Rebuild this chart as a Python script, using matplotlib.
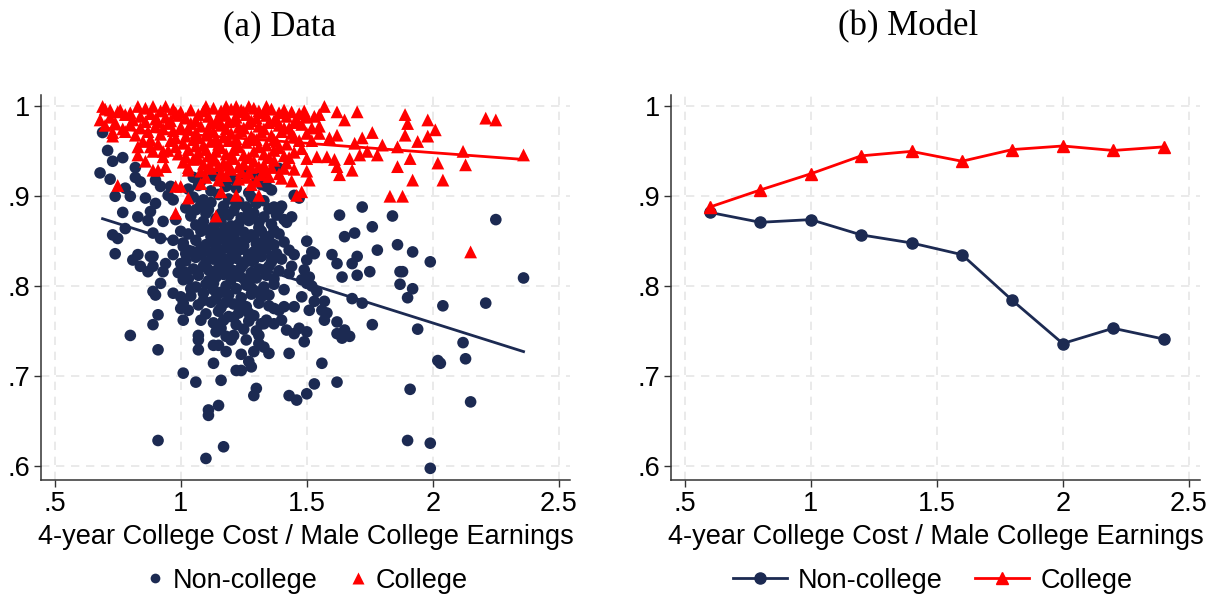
import numpy as np
import matplotlib
matplotlib.use("Agg")
import matplotlib.pyplot as plt
from matplotlib.lines import Line2D

NAVY = "#1c2a52"
RED = "#ff0000"
GRID = "#e6e6e6"

# --- panel (a): scattered data, (x, y) ---
noncollege_pts = [
    (0.69, 0.971), (0.71, 0.951), (0.68, 0.926), (0.73, 0.939), (0.77, 0.943), (0.72, 0.919),
    (0.74, 0.900), (0.78, 0.909), (0.82, 0.932), (0.82, 0.921), (0.80, 0.900), (0.77, 0.882),
    (0.78, 0.864), (0.73, 0.857), (0.75, 0.853), (0.74, 0.836), (0.83, 0.877), (0.84, 0.916),
    (0.86, 0.898), (0.88, 0.883), (0.87, 0.873), (0.90, 0.918), (0.90, 0.892), (0.92, 0.911),
    (0.93, 0.872), (0.89, 0.859), (0.92, 0.853), (0.81, 0.829), (0.83, 0.835), (0.84, 0.822),
    (0.87, 0.816), (0.89, 0.833), (0.89, 0.822), (0.88, 0.833), (0.94, 0.825), (0.93, 0.816),
    (0.97, 0.835), (0.92, 0.803), (0.89, 0.794), (0.90, 0.790), (0.97, 0.792), (0.91, 0.768),
    (0.89, 0.757), (0.80, 0.745), (0.91, 0.729), (0.91, 0.628), (0.95, 0.901), (0.96, 0.911),
    (0.97, 0.896), (0.98, 0.874), (1.00, 0.861), (0.97, 0.851), (1.01, 0.844), (1.02, 0.836),
    (1.01, 0.807), (1.00, 0.788), (1.01, 0.781), (1.00, 0.775), (1.03, 0.773), (1.01, 0.762),
    (1.01, 0.703), (1.06, 0.693), (1.08, 0.762), (1.07, 0.745), (1.07, 0.740), (1.07, 0.729),
    (1.10, 0.608), (1.11, 0.656), (1.11, 0.662), (1.15, 0.667), (1.13, 0.714), (1.16, 0.695),
    (1.17, 0.621), (1.13, 0.734), (1.15, 0.734), (1.18, 0.727), (1.14, 0.749), (1.18, 0.744),
    (1.21, 0.745), (1.22, 0.706), (1.24, 0.706), (1.24, 0.724), (1.27, 0.716), (1.28, 0.710),
    (1.29, 0.678), (1.30, 0.686), (1.31, 0.745), (1.31, 0.736), (1.33, 0.732), (1.35, 0.725),
    (1.32, 0.758), (1.34, 0.762), (1.37, 0.758), (1.40, 0.762), (1.42, 0.751), (1.43, 0.725),
    (1.43, 0.678), (1.46, 0.673), (1.50, 0.680), (1.53, 0.691), (1.56, 0.714), (1.62, 0.693),
    (1.45, 0.747), (1.47, 0.753), (1.49, 0.738), (1.50, 0.749), (1.45, 0.777), (1.48, 0.788),
    (1.51, 0.773), (1.53, 0.783), (1.54, 0.794), (1.56, 0.773), (1.57, 0.783), (1.58, 0.770),
    (1.57, 0.762), (1.62, 0.760), (1.62, 0.747), (1.64, 0.742), (1.65, 0.751), (1.67, 0.744),
    (1.68, 0.786), (1.72, 0.781), (1.76, 0.757), (1.75, 0.816), (1.70, 0.812), (1.68, 0.825),
    (1.70, 0.833), (1.62, 0.825), (1.60, 0.835), (1.64, 0.810), (1.65, 0.855), (1.69, 0.859),
    (1.63, 0.879), (1.72, 0.888), (1.76, 0.866), (1.78, 0.840), (1.84, 0.878), (1.86, 0.846),
    (1.87, 0.816), (1.88, 0.816), (1.87, 0.802), (1.92, 0.838), (1.92, 0.797), (1.90, 0.787),
    (1.94, 0.752), (1.99, 0.827), (2.04, 0.778), (2.02, 0.717), (2.03, 0.714), (2.12, 0.737),
    (2.13, 0.719), (2.15, 0.671), (2.21, 0.781), (2.25, 0.874), (2.36, 0.809), (1.91, 0.685),
    (1.90, 0.628), (1.99, 0.625), (1.99, 0.597), (1.50, 0.850), (1.52, 0.838), (1.53, 0.836),
    (1.50, 0.829), (1.49, 0.818), (1.51, 0.810), (1.50, 0.803), (1.52, 0.800), (1.48, 0.807),
    (1.45, 0.901), (1.47, 0.898), (1.44, 0.877), (1.41, 0.874), (1.39, 0.885), (1.37, 0.888),
    (1.39, 0.931), (1.34, 0.911), (1.34, 0.918), (1.45, 0.835), (1.44, 0.822), (1.43, 0.814),
    (1.41, 0.796), (1.41, 0.777), (1.39, 0.773), (1.37, 0.775),
    # dense core
    (1.05, 0.921), (1.08, 0.917), (1.13, 0.923), (1.17, 0.915), (1.21, 0.919), (1.25, 0.925),
    (1.30, 0.921), (1.03, 0.908), (1.07, 0.912), (1.12, 0.906), (1.18, 0.911), (1.22, 0.909),
    (1.27, 0.904), (1.32, 0.913), (1.36, 0.907), (1.05, 0.899), (1.09, 0.896), (1.15, 0.902),
    (1.19, 0.897), (1.23, 0.894), (1.28, 0.899), (1.33, 0.895), (1.02, 0.887), (1.08, 0.891),
    (1.11, 0.885), (1.17, 0.889), (1.21, 0.884), (1.26, 0.888), (1.30, 0.892), (1.35, 0.886),
    (1.40, 0.889), (1.04, 0.878), (1.10, 0.881), (1.14, 0.875), (1.19, 0.879), (1.24, 0.876),
    (1.29, 0.881), (1.33, 0.877), (1.38, 0.879), (1.06, 0.868), (1.09, 0.872), (1.13, 0.866),
    (1.16, 0.871), (1.20, 0.867), (1.23, 0.869), (1.27, 0.873), (1.31, 0.865), (1.36, 0.869),
    (1.42, 0.871), (1.03, 0.858), (1.08, 0.861), (1.12, 0.855), (1.15, 0.859), (1.18, 0.862),
    (1.21, 0.856), (1.25, 0.860), (1.28, 0.857), (1.32, 0.861), (1.35, 0.855), (1.39, 0.858),
    (1.01, 0.848), (1.06, 0.851), (1.10, 0.846), (1.14, 0.849), (1.17, 0.852), (1.20, 0.845),
    (1.23, 0.849), (1.26, 0.853), (1.30, 0.847), (1.33, 0.850), (1.37, 0.846), (1.41, 0.849),
    (1.04, 0.838), (1.08, 0.842), (1.12, 0.836), (1.15, 0.840), (1.18, 0.843), (1.21, 0.837),
    (1.24, 0.841), (1.27, 0.835), (1.31, 0.839), (1.34, 0.842), (1.38, 0.836), (1.43, 0.840),
    (1.02, 0.828), (1.06, 0.832), (1.10, 0.826), (1.13, 0.830), (1.16, 0.833), (1.19, 0.827),
    (1.22, 0.831), (1.25, 0.825), (1.29, 0.829), (1.32, 0.833), (1.36, 0.827), (1.40, 0.830),
    (1.05, 0.819), (1.09, 0.822), (1.12, 0.816), (1.15, 0.820), (1.18, 0.823), (1.21, 0.817),
    (1.24, 0.821), (1.28, 0.815), (1.31, 0.819), (1.35, 0.822), (1.39, 0.817), (1.03, 0.808),
    (1.07, 0.812), (1.11, 0.806), (1.14, 0.810), (1.17, 0.813), (1.20, 0.807), (1.23, 0.811),
    (1.27, 0.805), (1.30, 0.809), (1.34, 0.812), (1.06, 0.799), (1.10, 0.802), (1.13, 0.796),
    (1.18, 0.800), (1.22, 0.797), (1.26, 0.801), (1.29, 0.795), (1.33, 0.799), (1.37, 0.802),
    (1.04, 0.789), (1.09, 0.792), (1.14, 0.786), (1.19, 0.790), (1.24, 0.787), (1.28, 0.791),
    (1.32, 0.788), (1.07, 0.779), (1.12, 0.782), (1.16, 0.776), (1.21, 0.780), (1.26, 0.777),
    (1.31, 0.781), (1.35, 0.778), (1.10, 0.769), (1.15, 0.772), (1.19, 0.766), (1.23, 0.770),
    (1.29, 0.767), (1.13, 0.759), (1.17, 0.762), (1.22, 0.757), (1.27, 0.761), (1.33, 0.758),
    (1.06, 0.885), (1.12, 0.893), (1.16, 0.881), (1.22, 0.890), (1.27, 0.882), (1.31, 0.871),
    (1.37, 0.862), (1.10, 0.863), (1.14, 0.843), (1.19, 0.853), (1.22, 0.862), (1.25, 0.845),
    (1.29, 0.855), (1.33, 0.845), (1.36, 0.833), (1.08, 0.835), (1.11, 0.818), (1.16, 0.826),
    (1.20, 0.833), (1.23, 0.815), (1.26, 0.828), (1.29, 0.838), (1.33, 0.818), (1.37, 0.808),
    (1.13, 0.803), (1.16, 0.793), (1.20, 0.815), (1.25, 0.808), (1.28, 0.798), (1.31, 0.793),
    (1.35, 0.790), (1.09, 0.784), (1.18, 0.782), (1.23, 0.778), (1.27, 0.770), (1.16, 0.753),
    (1.21, 0.765), (1.25, 0.752), (1.30, 0.750), (1.20, 0.740), (1.26, 0.740), (1.29, 0.727),
    (1.02, 0.815), (1.00, 0.825), (0.99, 0.815), (1.04, 0.797),
]

college_pts = [
    (0.68, 0.985), (0.69, 1.000), (0.72, 0.996), (0.75, 0.994), (0.73, 0.967), (0.75, 0.912),
    (0.78, 0.972), (0.83, 1.000), (0.81, 0.985), (0.83, 0.955), (0.83, 0.946), (0.86, 0.939),
    (0.88, 0.963), (0.89, 1.000), (0.94, 1.000), (0.89, 0.950), (0.89, 0.929), (0.91, 0.929),
    (0.94, 0.933), (0.93, 0.950), (0.91, 0.983), (0.98, 0.993), (0.98, 0.911), (1.00, 0.911),
    (0.98, 0.881), (1.03, 0.929), (1.03, 0.898), (1.08, 0.914), (1.10, 1.000), (1.14, 0.878),
    (1.16, 0.905), (1.22, 0.901), (1.18, 1.000), (1.22, 1.000), (1.27, 1.000), (1.34, 1.000),
    (1.28, 0.913), (1.31, 0.901), (1.40, 0.920), (1.46, 0.901), (1.48, 0.905), (1.51, 0.918),
    (1.50, 0.928), (1.57, 1.000), (1.62, 0.994), (1.65, 0.985), (1.70, 0.994), (1.53, 0.989),
    (1.55, 0.991), (1.52, 0.976), (1.55, 0.970), (1.59, 0.965), (1.62, 0.968), (1.62, 0.933),
    (1.63, 0.924), (1.61, 0.941), (1.58, 0.944), (1.54, 0.944), (1.50, 0.942), (1.72, 0.965),
    (1.69, 0.959), (1.67, 0.942), (1.68, 0.929), (1.71, 0.946), (1.76, 0.971), (1.74, 0.950),
    (1.78, 0.946), (1.83, 0.900), (1.88, 0.900), (1.86, 0.933), (1.86, 0.955), (1.89, 0.991),
    (1.90, 0.981), (1.89, 0.968), (1.94, 0.961), (1.91, 0.942), (1.92, 0.918), (1.98, 0.985),
    (1.98, 0.967), (2.01, 0.974), (2.02, 0.937), (2.04, 0.918), (2.12, 0.950), (2.13, 0.935),
    (2.15, 0.838), (2.21, 0.987), (2.25, 0.985), (2.36, 0.946), (1.80, 0.957),
    # dense band
    (0.70, 0.997), (0.76, 0.996), (0.86, 0.998), (0.92, 0.995), (0.97, 0.997), (1.04, 0.996),
    (1.13, 0.998), (1.16, 0.995), (1.20, 0.997), (1.24, 0.996), (1.29, 0.998), (1.31, 0.995),
    (1.36, 0.997), (1.39, 0.993), (1.44, 0.994), (1.47, 0.992), (0.72, 0.988), (0.78, 0.991),
    (0.84, 0.989), (0.88, 0.992), (0.94, 0.988), (0.99, 0.990), (1.02, 0.987), (1.07, 0.991),
    (1.11, 0.989), (1.15, 0.986), (1.18, 0.990), (1.22, 0.988), (1.26, 0.991), (1.30, 0.987),
    (1.34, 0.990), (1.38, 0.986), (1.42, 0.989), (1.46, 0.985), (1.50, 0.988), (0.70, 0.979),
    (0.74, 0.982), (0.80, 0.980), (0.86, 0.983), (0.90, 0.978), (0.95, 0.981), (1.00, 0.977),
    (1.04, 0.981), (1.08, 0.978), (1.12, 0.982), (1.16, 0.979), (1.19, 0.983), (1.23, 0.977),
    (1.27, 0.981), (1.31, 0.978), (1.35, 0.982), (1.39, 0.979), (1.43, 0.976), (1.48, 0.980),
    (1.55, 0.978), (0.73, 0.971), (0.82, 0.968), (0.87, 0.972), (0.92, 0.969), (0.97, 0.973),
    (1.02, 0.967), (1.06, 0.971), (1.10, 0.968), (1.13, 0.972), (1.17, 0.966), (1.20, 0.970),
    (1.24, 0.973), (1.28, 0.967), (1.32, 0.971), (1.36, 0.968), (1.40, 0.972), (1.45, 0.966),
    (1.50, 0.970), (0.85, 0.961), (0.91, 0.958), (0.96, 0.962), (1.01, 0.959), (1.05, 0.963),
    (1.09, 0.957), (1.12, 0.961), (1.15, 0.958), (1.19, 0.962), (1.22, 0.956), (1.26, 0.960),
    (1.30, 0.963), (1.34, 0.957), (1.38, 0.961), (1.42, 0.958), (1.47, 0.962), (0.95, 0.951),
    (0.99, 0.947), (1.03, 0.952), (1.07, 0.949), (1.11, 0.945), (1.14, 0.950), (1.18, 0.947),
    (1.21, 0.952), (1.25, 0.946), (1.29, 0.950), (1.33, 0.947), (1.37, 0.951), (1.41, 0.945),
    (1.45, 0.949), (1.01, 0.938), (1.05, 0.941), (1.09, 0.936), (1.13, 0.940), (1.17, 0.937),
    (1.21, 0.942), (1.25, 0.936), (1.29, 0.939), (1.33, 0.935), (1.37, 0.940), (1.42, 0.937),
    (1.08, 0.928), (1.12, 0.931), (1.16, 0.926), (1.20, 0.930), (1.24, 0.927), (1.28, 0.932),
    (1.33, 0.928), (1.39, 0.925), (1.45, 0.930), (1.10, 0.921), (1.15, 0.918), (1.23, 0.919),
    (1.30, 0.917), (1.35, 0.922), (1.44, 0.917),
    (0.80, 0.993), (0.90, 0.986), (0.96, 0.984), (1.00, 0.994), (1.06, 0.984), (1.09, 0.995),
    (1.14, 0.983), (1.17, 0.992), (1.21, 0.984), (1.25, 0.994), (1.28, 0.984), (1.33, 0.993),
    (1.37, 0.984), (1.41, 0.996), (1.45, 0.982), (1.49, 0.995), (0.77, 0.975), (0.84, 0.976),
    (0.93, 0.975), (0.98, 0.965), (1.03, 0.975), (1.07, 0.965), (1.11, 0.975), (1.14, 0.964),
    (1.18, 0.975), (1.22, 0.964), (1.25, 0.976), (1.29, 0.964), (1.33, 0.975), (1.37, 0.963),
    (1.41, 0.976), (1.44, 0.970), (1.52, 0.962), (0.88, 0.955), (0.93, 0.944), (0.98, 0.955),
    (1.02, 0.944), (1.06, 0.956), (1.10, 0.952), (1.13, 0.944), (1.16, 0.954), (1.20, 0.943),
    (1.23, 0.955), (1.27, 0.943), (1.31, 0.955), (1.35, 0.943), (1.39, 0.954), (1.43, 0.943),
    (1.48, 0.953), (1.03, 0.932), (1.07, 0.942), (1.11, 0.932), (1.15, 0.934), (1.19, 0.935),
    (1.23, 0.933), (1.27, 0.926), (1.31, 0.933), (1.36, 0.932), (1.41, 0.931), (1.18, 0.923),
    (1.26, 0.921), (1.32, 0.924),
]

# linear fit lines (endpoints)
fit_x = [0.69, 2.36]
fit_noncollege = [0.875, 0.727]
fit_college = [0.976, 0.941]

# --- panel (b): model ---
model_x = [0.6, 0.8, 1.0, 1.2, 1.4, 1.6, 1.8, 2.0, 2.2, 2.4]
model_noncollege = [0.882, 0.871, 0.874, 0.857, 0.848, 0.835, 0.784, 0.736, 0.753, 0.741]
model_college = [0.888, 0.907, 0.925, 0.945, 0.950, 0.939, 0.952, 0.956, 0.951, 0.955]

xticks = [0.5, 1, 1.5, 2, 2.5]
xticklabels = [".5", "1", "1.5", "2", "2.5"]
yticks = [0.6, 0.7, 0.8, 0.9, 1.0]
yticklabels = [".6", ".7", ".8", ".9", "1"]

plt.rcParams["font.family"] = ["Liberation Sans", "DejaVu Sans"]
FS = 19.5

fig = plt.figure(figsize=(12.08, 6), dpi=100)
ax1 = fig.add_axes([0.034, 0.2, 0.438, 0.642])
ax2 = fig.add_axes([0.5555, 0.2, 0.438, 0.642])


def style_axes(ax):
    ax.set_xlim(0.446, 2.545)
    ax.set_ylim(0.584, 1.013)
    ax.set_xticks(xticks)
    ax.set_xticklabels(xticklabels)
    ax.set_yticks(yticks)
    ax.set_yticklabels(yticklabels)
    ax.grid(True, color=GRID, linestyle=(0, (5, 4)), linewidth=1.2)
    ax.set_axisbelow(True)
    for side in ("top", "right"):
        ax.spines[side].set_visible(False)
    for side in ("left", "bottom"):
        ax.spines[side].set_color("#333333")
        ax.spines[side].set_linewidth(1.1)
    ax.tick_params(labelsize=FS, length=5, width=1, color="#333333", pad=3)
    ax.set_xlabel("4-year College Cost / Male College Earnings", fontsize=FS, labelpad=5)


nc = np.array(noncollege_pts)
co = np.array(college_pts)
ax1.scatter(nc[:, 0], nc[:, 1], s=70, color=NAVY, edgecolors="none", zorder=3)
ax1.scatter(co[:, 0], co[:, 1], s=85, marker="^", color=RED, edgecolors="none", zorder=4)
ax1.plot(fit_x, fit_noncollege, color=NAVY, lw=2, zorder=5)
ax1.plot(fit_x, fit_college, color=RED, lw=2, zorder=5)
style_axes(ax1)

ax2.plot(model_x, model_noncollege, color=NAVY, lw=2, marker="o", ms=8, zorder=3)
ax2.plot(model_x, model_college, color=RED, lw=2, marker="^", ms=9, zorder=4)
style_axes(ax2)

serif = ["Liberation Serif", "DejaVu Serif"]
fig.text(280 / 1208, 1 - 27 / 600, "(a) Data", family=serif, fontsize=25, ha="center", va="center")
fig.text(908 / 1208, 1 - 27 / 600, "(b) Model", family=serif, fontsize=25, ha="center", va="center")

h1 = [Line2D([], [], ls="none", marker="o", ms=7, color=NAVY, mec="none"),
      Line2D([], [], ls="none", marker="^", ms=8, color=RED, mec="none")]
fig.legend(h1, ["Non-college", "College"], loc="center", bbox_to_anchor=(0.252, 0.032),
           ncol=2, frameon=False, fontsize=FS, handletextpad=0.15, columnspacing=1.0,
           handlelength=1.0)

h2 = [Line2D([], [], color=NAVY, lw=2, marker="o", ms=8),
      Line2D([], [], color=RED, lw=2, marker="^", ms=9)]
fig.legend(h2, ["Non-college", "College"], loc="center", bbox_to_anchor=(0.772, 0.032),
           ncol=2, frameon=False, fontsize=FS, handletextpad=0.4, columnspacing=1.2,
           handlelength=2.0)

fig.savefig("out.png", dpi=100)
